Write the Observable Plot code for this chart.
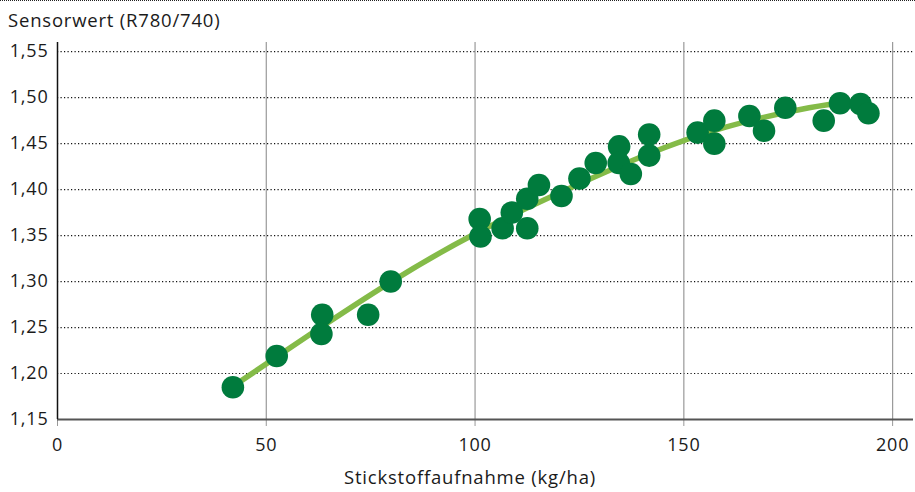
<!DOCTYPE html>
<html><head><meta charset="utf-8">
<script src="https://cdn.jsdelivr.net/npm/d3@7"></script>
<script src="https://cdn.jsdelivr.net/npm/@observablehq/plot@0.6"></script>
<style>
html,body{margin:0;padding:0;background:#fff;}
#wrap{width:915px;height:492px;position:relative;overflow:hidden;font-family:"Open Sans",sans-serif;color:#1a1a1a;letter-spacing:0.8px;}
#topline{position:absolute;left:0;top:0;width:915px;height:0;border-top:1px dotted #222;}
#title{position:absolute;left:8px;top:7px;font-size:18.5px;line-height:26px;white-space:nowrap;}
#chart{position:absolute;left:0;top:36px;}
#xlabel{position:absolute;left:0;top:464px;width:940px;text-align:center;font-size:18.5px;line-height:26px;}
</style></head>
<body>
<div id="wrap">
  <div id="topline"></div>
  <div id="title">Sensorwert (R780/740)</div>
  <div id="chart"></div>
  <div id="xlabel">Stickstoffaufnahme (kg/ha)</div>
</div>
<script>
// Scatter points: nitrogen uptake (kg/ha) and sensor value (R780/740)
const nUptake = [42.0, 52.5, 63.4, 63.2, 74.4, 79.8, 101.1, 101.3, 106.6, 108.8, 112.5, 112.5, 115.3, 120.7, 125.0, 128.9, 134.5, 134.4, 137.3, 141.7, 141.7, 153.3, 157.3, 157.3, 165.7, 169.2, 174.3, 183.5, 187.4, 192.3, 194.2];
const sensor  = [1.185, 1.219, 1.264, 1.243, 1.264, 1.300, 1.368, 1.349, 1.358, 1.375, 1.358, 1.390, 1.405, 1.393, 1.412, 1.429, 1.447, 1.429, 1.417, 1.460, 1.437, 1.462, 1.475, 1.450, 1.480, 1.464, 1.489, 1.475, 1.494, 1.493, 1.483];
// Trend curve
const trendX = [42, 60, 80, 100, 120, 140, 160, 180, 188];
const trendY = [1.186, 1.241, 1.300, 1.352, 1.396, 1.436, 1.468, 1.489, 1.494];
// Axis ticks
const xTicks = [0, 50, 100, 150, 200];
const yTicks = [1.15, 1.20, 1.25, 1.30, 1.35, 1.40, 1.45, 1.50, 1.55];
const yGrid = [1.20, 1.25, 1.30, 1.35, 1.40, 1.45, 1.50, 1.55];

const points = nUptake.map((x, i) => ({x, y: sensor[i]}));
const trend = trendX.map((x, i) => ({x, y: trendY[i]}));
const fmt = d => d.toFixed(2).replace(".", ",");

const chart = Plot.plot({
  width: 915,
  height: 424,
  marginTop: 6,
  marginBottom: 41,
  marginLeft: 57,
  marginRight: 2,
  style: {fontFamily: "Open Sans, sans-serif", fontSize: "18px", color: "#1a1a1a", background: "#fff", letterSpacing: "0.8px"},
  x: {domain: [0, 205]},
  y: {domain: [1.15, 1.56]},
  marks: [
    Plot.ruleY(yGrid, {stroke: "#111", strokeWidth: 1.2, strokeDasharray: "1.2,2.3"}),
    Plot.gridX(xTicks.filter(d => d > 0), {stroke: "#999", strokeOpacity: 1, strokeWidth: 1.2}),
    Plot.axisX(xTicks, {tickSize: 7, tickPadding: 12, stroke: "#999", tickFormat: d => String(d), fontSize: 18, label: null}),
    Plot.axisY(yTicks, {tickSize: 0, tickPadding: 9, tickFormat: fmt, fontSize: 18, label: null}),
    Plot.ruleY([1.15], {stroke: "#555", strokeWidth: 2}),
    Plot.ruleX([0], {stroke: "#111", strokeWidth: 1.5}),
    Plot.line(trend, {x: "x", y: "y", stroke: "#84bb48", strokeWidth: 5.5, curve: "natural"}),
    Plot.dot(points, {x: "x", y: "y", r: 11.3, fill: "#007b3d", stroke: "none"})
  ]
});
document.getElementById("chart").appendChild(chart);
</script>
</body></html>
